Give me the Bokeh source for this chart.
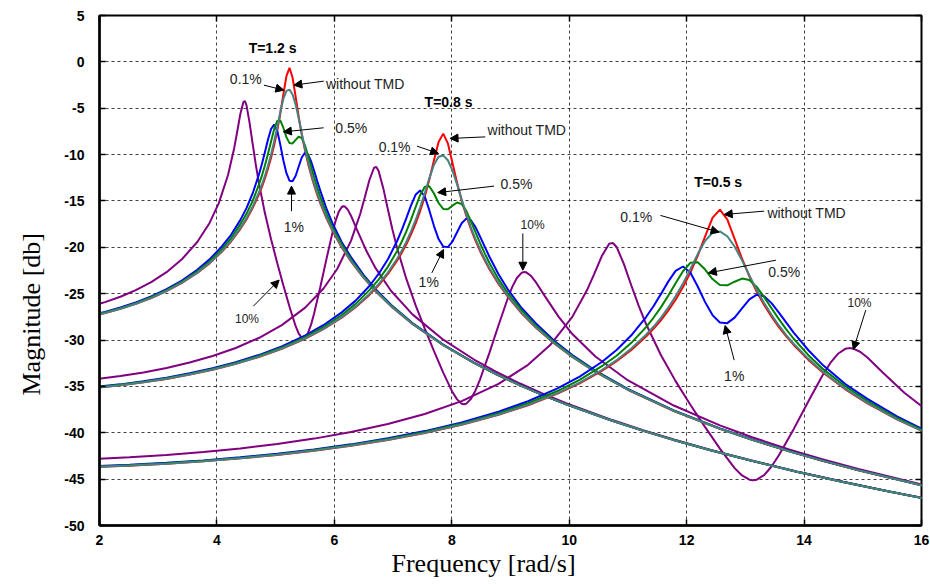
from bokeh.plotting import figure
from bokeh.models import Range1d, FixedTicker, LinearAxis, Arrow, NormalHead, Label, Title
from bokeh.embed import file_html
from bokeh.resources import INLINE

# ---------------- data ----------------
# T = 1.2 s group
f12 = [1.833, 2.094, 2.356, 2.618, 2.880, 3.142, 3.403, 3.665, 3.875, 4.084,
       4.241, 4.398, 4.503, 4.608, 4.712, 4.765, 4.817, 4.869, 4.922, 4.974,
       5.027, 5.079, 5.131, 5.184, 5.236, 5.288, 5.341, 5.393, 5.445, 5.498,
       5.550, 5.603, 5.655, 5.707, 5.760, 5.864, 5.969, 6.126, 6.283, 6.493,
       6.702, 6.964, 7.330, 7.854, 8.378, 8.744, 9.163, 9.530, 9.948, 10.734,
       11.257, 11.781, 12.409, 13.090, 13.875, 14.661, 15.446, 16.232]
red12 = [-27.46, -27.09, -26.63, -26.10, -25.47, -24.73, -23.84, -22.76, -21.73, -20.48,
         -19.37, -18.03, -16.99, -15.77, -14.33, -13.50, -12.57, -11.53, -10.35, -8.99,
         -7.42, -5.59, -3.52, -1.53, -0.64, -1.69, -3.78, -5.93, -7.84, -9.49,
         -10.92, -12.18, -13.31, -14.31, -15.23, -16.84, -18.23, -20.01, -21.52, -23.25,
         -24.73, -26.34, -28.26, -30.55, -32.47, -33.66, -34.89, -35.89, -36.94, -38.71,
         -39.78, -40.78, -41.89, -43.00, -44.20, -45.30, -46.33, -47.30]
teal12 = [-27.45, -27.08, -26.62, -26.08, -25.45, -24.71, -23.81, -22.73, -21.69, -20.43,
          -19.30, -17.93, -16.87, -15.62, -14.13, -13.27, -12.30, -11.21, -9.98, -8.59,
          -7.05, -5.43, -4.00, -3.13, -2.99, -3.51, -4.61, -6.11, -7.73, -9.29,
          -10.71, -11.98, -13.13, -14.16, -15.10, -16.73, -18.14, -19.94, -21.47, -23.22,
          -24.71, -26.33, -28.25, -30.54, -32.47, -33.65, -34.89, -35.88, -36.94, -38.71,
          -39.78, -40.78, -41.89, -43.00, -44.20, -45.30, -46.33, -47.30]
green12 = [-27.41, -27.03, -26.56, -26.02, -25.38, -24.62, -23.71, -22.59, -21.52, -20.20,
           -19.00, -17.52, -16.39, -15.00, -13.30, -12.30, -11.18, -9.93, -8.58, -7.28,
           -6.37, -6.32, -7.10, -8.12, -8.76, -8.80, -8.41, -8.07, -8.22, -8.97,
           -10.07, -11.27, -12.45, -13.55, -14.56, -16.33, -17.84, -19.68, -21.29, -23.09,
           -24.62, -26.26, -28.21, -30.52, -32.45, -33.65, -34.88, -35.88, -36.93, -38.70,
           -39.77, -40.77, -41.89, -43.00, -44.20, -45.30, -46.33, -47.30]
blue12 = [-27.35, -26.96, -26.49, -25.95, -25.29, -24.52, -23.58, -22.43, -21.30, -19.91,
          -18.65, -17.07, -15.77, -14.19, -12.22, -11.05, -9.75, -8.40, -7.24, -6.77,
          -7.42, -8.92, -10.61, -12.01, -12.81, -12.88, -12.28, -11.28, -10.31, -9.81,
          -9.98, -10.72, -11.74, -12.83, -13.89, -15.80, -17.43, -19.45, -21.05, -22.94,
          -24.51, -26.19, -28.16, -30.49, -32.43, -33.63, -34.87, -35.87, -36.93, -38.70,
          -39.77, -40.77, -41.88, -42.99, -44.20, -45.29, -46.33, -47.30]
f12p = [1.833, 2.094, 2.356, 2.618, 2.880, 3.142, 3.403, 3.665, 3.875, 4.032,
        4.189, 4.294, 4.346, 4.398, 4.451, 4.477, 4.503, 4.555, 4.608, 4.660,
        4.712, 4.817, 4.922, 5.027, 5.131, 5.236, 5.341, 5.393, 5.445, 5.472,
        5.498, 5.550, 5.603, 5.655, 5.760, 5.864, 5.969, 6.021, 6.074, 6.126,
        6.152, 6.178, 6.231, 6.283, 6.388, 6.545, 6.702, 6.964, 7.330, 7.854,
        8.378, 8.744, 9.163, 9.530, 9.948, 10.734, 11.257, 11.781, 12.409, 13.090,
        13.875, 14.661, 15.446, 16.232]
purple12 = [-26.39, -25.91, -25.33, -24.62, -23.76, -22.68, -21.29, -19.43, -17.37, -15.24,
            -12.20, -9.31, -7.51, -5.64, -4.32, -4.24, -4.66, -6.52, -8.82, -11.01,
            -12.97, -16.31, -19.13, -21.68, -24.09, -26.41, -28.51, -29.30, -29.76, -29.82,
            -29.76, -29.26, -28.34, -27.13, -24.31, -21.30, -18.39, -17.14, -16.18, -15.65,
            -15.57, -15.60, -15.96, -16.59, -18.14, -20.38, -22.25, -24.68, -27.23, -29.96,
            -32.10, -33.38, -34.69, -35.72, -36.81, -38.63, -39.71, -40.73, -41.85, -42.97,
            -44.18, -45.28, -46.32, -47.29]

# T = 0.8 s group
f08 = [1.964, 2.356, 2.749, 3.142, 3.534, 3.927, 4.320, 4.712, 5.105, 5.498,
       5.812, 6.126, 6.362, 6.597, 6.754, 6.912, 7.069, 7.147, 7.226, 7.304,
       7.383, 7.461, 7.540, 7.618, 7.697, 7.775, 7.854, 7.933, 8.011, 8.090,
       8.168, 8.247, 8.325, 8.404, 8.482, 8.561, 8.639, 8.796, 8.954, 9.189,
       9.425, 9.739, 10.053, 10.446, 10.996, 11.781, 12.566, 13.116, 13.745, 14.294,
       14.923, 16.101]
red08 = [-35.14, -34.88, -34.56, -34.19, -33.73, -33.20, -32.57, -31.83, -30.94, -29.86,
         -28.83, -27.58, -26.47, -25.13, -24.09, -22.87, -21.43, -20.60, -19.67, -18.63,
         -17.45, -16.09, -14.52, -12.69, -10.62, -8.63, -7.74, -8.79, -10.88, -13.03,
         -14.94, -16.59, -18.02, -19.28, -20.41, -21.41, -22.33, -23.94, -25.33, -27.11,
         -28.62, -30.35, -31.83, -33.44, -35.36, -37.65, -39.57, -40.76, -41.99, -42.99,
         -44.04, -45.81]
teal08 = [-35.13, -34.87, -34.55, -34.18, -33.72, -33.18, -32.55, -31.81, -30.91, -29.83,
          -28.79, -27.53, -26.40, -25.03, -23.97, -22.72, -21.23, -20.37, -19.40, -18.31,
          -17.08, -15.69, -14.15, -12.53, -11.10, -10.23, -10.09, -10.61, -11.71, -13.21,
          -14.83, -16.39, -17.81, -19.08, -20.23, -21.26, -22.20, -23.83, -25.24, -27.04,
          -28.57, -30.32, -31.81, -33.43, -35.35, -37.64, -39.57, -40.75, -41.99, -42.98,
          -44.04, -45.81]
green08 = [-35.09, -34.83, -34.51, -34.13, -33.66, -33.12, -32.48, -31.72, -30.81, -29.69,
           -28.62, -27.30, -26.10, -24.62, -23.49, -22.10, -20.40, -19.40, -18.28, -17.03,
           -15.68, -14.38, -13.47, -13.42, -14.20, -15.22, -15.86, -15.90, -15.51, -15.17,
           -15.32, -16.07, -17.17, -18.37, -19.55, -20.65, -21.66, -23.43, -24.94, -26.78,
           -28.39, -30.19, -31.72, -33.36, -35.31, -37.62, -39.55, -40.75, -41.98, -42.98,
           -44.03, -45.80]
blue08 = [-35.04, -34.78, -34.45, -34.06, -33.59, -33.05, -32.39, -31.62, -30.68, -29.53,
          -28.40, -27.01, -25.75, -24.17, -22.87, -21.29, -19.32, -18.15, -16.85, -15.50,
          -14.34, -13.87, -14.52, -16.02, -17.71, -19.11, -19.91, -19.98, -19.38, -18.38,
          -17.41, -16.91, -17.08, -17.82, -18.84, -19.93, -20.99, -22.90, -24.53, -26.55,
          -28.15, -30.04, -31.61, -33.29, -35.26, -37.59, -39.53, -40.73, -41.97, -42.97,
          -44.03, -45.80]
f08p = [1.964, 2.356, 2.749, 3.142, 3.534, 3.927, 4.320, 4.712, 5.105, 5.498,
        5.812, 6.048, 6.283, 6.440, 6.519, 6.597, 6.676, 6.715, 6.754, 6.833,
        6.912, 6.990, 7.069, 7.226, 7.383, 7.540, 7.697, 7.854, 8.011, 8.090,
        8.168, 8.207, 8.247, 8.325, 8.404, 8.482, 8.639, 8.796, 8.954, 9.032,
        9.111, 9.189, 9.228, 9.268, 9.346, 9.425, 9.582, 9.818, 10.053, 10.446,
        10.996, 11.781, 12.566, 13.116, 13.745, 14.294, 14.923, 16.101]
purple08 = [-34.20, -33.88, -33.49, -33.01, -32.43, -31.72, -30.86, -29.78, -28.39, -26.53,
            -24.47, -22.34, -19.30, -16.41, -14.61, -12.74, -11.42, -11.34, -11.76, -13.62,
            -15.92, -18.11, -20.07, -23.41, -26.23, -28.78, -31.19, -33.51, -35.61, -36.40,
            -36.86, -36.92, -36.86, -36.36, -35.44, -34.23, -31.41, -28.40, -25.49, -24.24,
            -23.28, -22.75, -22.67, -22.70, -23.06, -23.69, -25.24, -27.48, -29.35, -31.78,
            -34.33, -37.06, -39.20, -40.48, -41.79, -42.82, -43.91, -45.73]

# T = 0.5 s group
f05 = [1.885, 2.513, 3.142, 3.770, 4.398, 5.026, 5.655, 6.283, 6.911, 7.540,
       8.168, 8.796, 9.299, 9.801, 10.178, 10.555, 10.807, 11.058, 11.309, 11.435,
       11.561, 11.686, 11.812, 11.938, 12.063, 12.189, 12.315, 12.440, 12.566, 12.692,
       12.817, 12.943, 13.069, 13.194, 13.320, 13.446, 13.571, 13.697, 13.823, 14.074,
       14.325, 14.702, 15.079, 15.582, 16.084, 16.713]
red05 = [-43.70, -43.55, -43.34, -43.08, -42.76, -42.39, -41.93, -41.40, -40.77, -40.03,
         -39.14, -38.06, -37.03, -35.78, -34.67, -33.33, -32.29, -31.07, -29.63, -28.80,
         -27.87, -26.83, -25.65, -24.29, -22.72, -20.89, -18.82, -16.83, -15.94, -16.99,
         -19.08, -21.23, -23.14, -24.79, -26.22, -27.48, -28.61, -29.61, -30.53, -32.14,
         -33.53, -35.31, -36.82, -38.55, -40.03, -41.64]
teal05 = [-43.69, -43.54, -43.33, -43.07, -42.75, -42.38, -41.92, -41.38, -40.75, -40.01,
          -39.11, -38.03, -36.99, -35.73, -34.60, -33.23, -32.17, -30.92, -29.43, -28.57,
          -27.60, -26.51, -25.28, -23.89, -22.35, -20.73, -19.30, -18.43, -18.29, -18.81,
          -19.91, -21.41, -23.03, -24.59, -26.01, -27.28, -28.43, -29.46, -30.40, -32.03,
          -33.44, -35.24, -36.77, -38.52, -40.01, -41.63]
green05 = [-43.66, -43.50, -43.29, -43.03, -42.71, -42.33, -41.86, -41.32, -40.68, -39.92,
           -39.01, -37.89, -36.82, -35.50, -34.30, -32.82, -31.69, -30.30, -28.60, -27.60,
           -26.48, -25.23, -23.88, -22.58, -21.67, -21.62, -22.40, -23.42, -24.06, -24.10,
           -23.71, -23.37, -23.52, -24.27, -25.37, -26.57, -27.75, -28.85, -29.86, -31.63,
           -33.14, -34.98, -36.59, -38.39, -39.92, -41.56]
blue05 = [-43.61, -43.45, -43.24, -42.98, -42.65, -42.26, -41.79, -41.25, -40.59, -39.82,
          -38.88, -37.73, -36.60, -35.21, -33.95, -32.37, -31.07, -29.49, -27.52, -26.35,
          -25.05, -23.70, -22.54, -22.07, -22.72, -24.22, -25.91, -27.31, -28.11, -28.18,
          -27.58, -26.58, -25.61, -25.11, -25.28, -26.02, -27.04, -28.13, -29.19, -31.10,
          -32.73, -34.75, -36.35, -38.24, -39.81, -41.49]
f05p = [1.885, 2.513, 3.142, 3.770, 4.398, 5.026, 5.655, 6.283, 6.911, 7.540,
        8.168, 8.796, 9.299, 9.676, 10.053, 10.304, 10.430, 10.555, 10.681, 10.744,
        10.807, 10.932, 11.058, 11.184, 11.309, 11.561, 11.812, 12.063, 12.315, 12.566,
        12.817, 12.943, 13.069, 13.131, 13.194, 13.320, 13.446, 13.571, 13.823, 14.074,
        14.325, 14.451, 14.577, 14.702, 14.765, 14.828, 14.954, 15.079, 15.331, 15.708,
        16.084, 16.713]
purple05 = [-42.84, -42.65, -42.40, -42.08, -41.69, -41.21, -40.63, -39.92, -39.06, -37.98,
            -36.59, -34.73, -32.67, -30.54, -27.50, -24.61, -22.81, -20.94, -19.62, -19.54,
            -19.96, -21.82, -24.12, -26.31, -28.27, -31.61, -34.43, -36.98, -39.39, -41.71,
            -43.81, -44.60, -45.06, -45.12, -45.06, -44.56, -43.64, -42.43, -39.61, -36.60,
            -33.69, -32.44, -31.48, -30.95, -30.87, -30.90, -31.26, -31.89, -33.44, -35.68,
            -37.55, -39.98]

x_ticks = [2, 4, 6, 8, 10, 12, 14, 16]
x_tick_labels = ["2", "4", "6", "8", "10", "12", "14", "16"]
y_ticks = [-50, -45, -40, -35, -30, -25, -20, -15, -10, -5, 0, 5]
y_tick_labels = ["-50", "-45", "-40", "-35", "-30", "-25", "-20", "-15", "-10", "-5", "0", "5"]

# annotations: text, x (left), y (middle), kind
ann_text = ["T=1.2 s", "0.1%", "without TMD", "0.5%", "1%", "10%",
            "T=0.8 s", "0.1%", "without TMD", "0.5%", "1%", "10%",
            "T=0.5 s", "0.1%", "without TMD", "0.5%", "1%", "10%"]
ann_x = [4.54, 4.22, 5.857, 6.017, 5.137, 4.308,
         7.537, 6.754, 8.61, 8.83, 7.435, 9.171,
         12.13, 10.87, 13.375, 13.39, 12.638, 14.74]
ann_y = [1.48, -1.86, -2.40, -7.09, -17.83, -27.75,
         -4.31, -9.16, -7.4, -13.2, -23.76, -17.6,
         -13.0, -16.73, -16.28, -22.63, -33.9, -26.0]
ann_kind = ["title", "n", "n", "n", "n", "s",
            "title", "n", "n", "n", "n", "s",
            "title", "n", "n", "n", "n", "s"]

arr_x0 = [4.80, 5.82, 5.818, 5.27, 4.62, 7.406, 8.57, 8.72, 7.66, 9.21, 11.554, 13.32, 13.52, 12.81, 15.05]
arr_y0 = [-2.51, -2.08, -7.11, -16.1, -26.35, -9.09, -8.09, -13.4, -22.76, -18.5, -16.56, -16.1, -21.39, -32.17, -26.78]
arr_x1 = [5.14, 5.31, 5.132, 5.27, 5.06, 7.775, 7.97, 7.76, 7.86, 9.21, 12.553, 12.64, 12.37, 12.655, 14.84]
arr_y1 = [-3.05, -2.51, -7.55, -13.4, -23.53, -9.88, -8.26, -14.1, -20.23, -22.47, -18.37, -16.46, -22.76, -28.43, -31.02]

x_title = "Frequency [rad/s]"
y_title = "Magnitude [db]"

# ---------------- figure ----------------
p = figure(width=930, height=584, output_backend="svg", toolbar_location=None,
           x_range=Range1d(2, 16), y_range=Range1d(-50, 5),
           min_border_left=99, min_border_right=9, min_border_top=15, min_border_bottom=59)
p.background_fill_color = "white"
p.border_fill_color = "white"
p.outline_line_color = "black"
p.outline_line_width = 2

p.xaxis.ticker = FixedTicker(ticks=x_ticks)
p.yaxis.ticker = FixedTicker(ticks=y_ticks)
p.xaxis.major_label_overrides = {t: s for t, s in zip(x_ticks, x_tick_labels)}
p.yaxis.major_label_overrides = {t: s for t, s in zip(y_ticks, y_tick_labels)}
for ax in (p.xaxis, p.yaxis):
    ax.major_tick_in = 6
    ax.major_tick_out = 0
    ax.minor_tick_in = 0
    ax.minor_tick_out = 0
    ax.axis_line_width = 2.5
    ax.axis_line_color = "black"
    ax.major_tick_line_width = 1.5
    ax.major_label_text_font = "Liberation Sans"
    ax.major_label_text_font_style = "bold"
    ax.major_label_text_font_size = "14px"
    ax.major_label_text_color = "black"
p.xaxis.major_label_standoff = 9
p.yaxis.major_label_standoff = 15

# inward ticks on the top and right edges (minor ticks only, so no labels)
top = LinearAxis(ticker=FixedTicker(ticks=[], minor_ticks=x_ticks),
                 minor_tick_in=6, minor_tick_out=0, major_tick_in=0, major_tick_out=0,
                 axis_line_color=None, major_label_standoff=0, minor_tick_line_width=1.5)
right = LinearAxis(ticker=FixedTicker(ticks=[], minor_ticks=y_ticks),
                   minor_tick_in=6, minor_tick_out=0, major_tick_in=0, major_tick_out=0,
                   axis_line_color=None, major_label_standoff=0, minor_tick_line_width=1.5)
p.add_layout(top, "above")
p.add_layout(right, "right")

p.xgrid.ticker = FixedTicker(ticks=x_ticks)
p.ygrid.ticker = FixedTicker(ticks=y_ticks)
p.grid.grid_line_color = "black"
p.grid.grid_line_alpha = 0.75
p.grid.grid_line_dash = "3 3"
p.grid.grid_line_width = 1

RED, TEAL, GREEN, BLUE, PURPLE = "#ff0000", "#468282", "#008000", "#0000ff", "#800080"
LW = 2
for fx, py in ((f12p, purple12), (f08p, purple08), (f05p, purple05)):
    p.line(fx, py, line_color=PURPLE, line_width=LW)
for fx, r, b, g, t in ((f12, red12, blue12, green12, teal12),
                       (f08, red08, blue08, green08, teal08),
                       (f05, red05, blue05, green05, teal05)):
    p.line(fx, r, line_color=RED, line_width=LW)
    p.line(fx, b, line_color=BLUE, line_width=LW)
    p.line(fx, g, line_color=GREEN, line_width=LW)
    p.line(fx, t, line_color=TEAL, line_width=LW)

for x0, y0, x1, y1 in zip(arr_x0, arr_y0, arr_x1, arr_y1):
    p.add_layout(Arrow(x_start=x0, y_start=y0, x_end=x1, y_end=y1, line_width=1, line_color="black",
                       end=NormalHead(size=8, fill_color="black", line_color="black", line_width=1)))

for t, x, y, k in zip(ann_text, ann_x, ann_y, ann_kind):
    if k == "title":
        lab = Label(x=x, y=y, text=t, text_font="Liberation Sans", text_font_style="bold",
                    text_font_size="14px", text_baseline="middle", text_align="left", text_color="black")
    elif k == "s":
        lab = Label(x=x, y=y, text=t, text_font="Liberation Sans", text_font_size="12px",
                    text_baseline="middle", text_align="left", text_color="#222222")
    else:
        lab = Label(x=x, y=y, text=t, text_font="Liberation Sans", text_font_size="14px",
                    text_baseline="middle", text_align="left", text_color="#222222")
    p.add_layout(lab)

# axis titles (side titles so they can sit off-centre like the reference)
p.add_layout(Title(text=x_title, align="left", offset=292, vertical_align="top", standoff=2,
                   text_font="Liberation Serif", text_font_size="26px", text_font_style="normal",
                   text_color="black"), "below")
p.add_layout(Title(text=y_title, align="left", offset=130, vertical_align="top", standoff=28,
                   text_font="Liberation Serif", text_font_size="26px", text_font_style="normal",
                   text_color="black"), "left")

open("out.html", "w").write(file_html(p, INLINE))
